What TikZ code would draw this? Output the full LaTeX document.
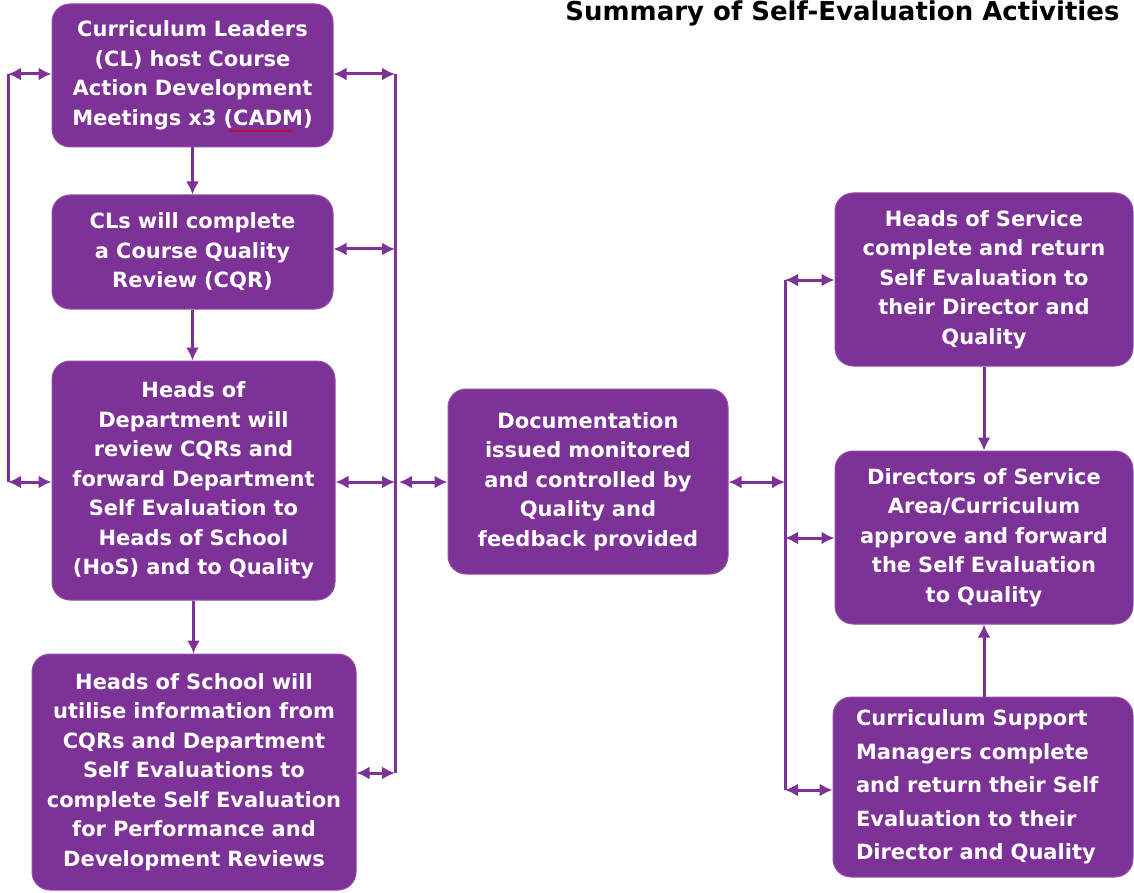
\documentclass[tikz,border=0pt]{standalone}
\usepackage{fontspec}
\setmainfont{DejaVu Sans}
\usetikzlibrary{arrows.meta,decorations.pathmorphing}
\definecolor{purp}{RGB}{125,50,152}
\begin{document}
\begin{tikzpicture}[x=1pt,y=-1pt,
  box/.style={draw=purp!85!white,line width=1pt,fill=purp,rounded corners=18pt,text=white,align=center,
     font=\fontsize{21}{29.5}\selectfont\bfseries,inner sep=0pt},
  conn/.style={draw=purp,line width=3pt},
  dbl/.style={conn,{Latex[length=13pt,width=13pt]}-{Latex[length=13pt,width=13pt]}},
  one/.style={conn,-{Latex[length=13pt,width=13pt]}}]
\useasboundingbox (0,0) rectangle (1134,893);
\fill[white] (0,0) rectangle (1134,893);
\node[anchor=base east,font=\fontsize{26}{30}\selectfont\bfseries] (title) at (1123,21) {Summary of Self-Evaluation Activities};
% boxes
\node[box,minimum width=281pt,minimum height=143pt,text width=275pt] (b1) at (192.5,75.5)
  {Curriculum Leaders\\(CL) host Course\\Action Development\\Meetings x3 (CADM)};
\node[box,minimum width=281pt,minimum height=114pt,text width=275pt] (b2) at (192.5,252)
  {CLs will complete\\a Course Quality\\Review (CQR)};
\node[box,minimum width=283pt,minimum height=239pt,text width=275pt] (b3) at (193.5,480.5)
  {Heads of\\Department will\\review CQRs and\\forward Department\\Self Evaluation to\\Heads of School\\(HoS) and to Quality};
\node[box,minimum width=324pt,minimum height=236pt,text width=318pt] (b4) at (194,772)
  {Heads of School will\\utilise information from\\CQRs and Department\\Self Evaluations to\\complete Self Evaluation\\for Performance and\\Development Reviews};
\node[box,minimum width=280pt,minimum height=185pt,text width=274pt] (doc) at (588,481.5)
  {Documentation\\issued monitored\\and controlled by\\Quality and\\feedback provided};
\node[box,minimum width=298pt,minimum height=173pt,text width=292pt] (hs) at (984,279.5)
  {Heads of Service\\complete and return\\Self Evaluation to\\their Director and\\Quality};
\node[box,minimum width=298pt,minimum height=173pt,text width=292pt] (dir) at (984,537.5)
  {Directors of Service\\Area/Curriculum\\approve and forward\\the Self Evaluation\\to Quality};
\node[box,minimum width=300pt,minimum height=180pt,text width=254pt,align=left,
  font=\fontsize{21}{33.5}\selectfont\bfseries] (csm) at (983,787)
  {Curriculum Support\\Managers complete\\and return their Self\\Evaluation to their\\Director and Quality};
% spell-check squiggle
\draw[red!85!black,line width=0.8pt,decorate,decoration={snake,amplitude=1pt,segment length=4pt}] (229,131) -- (293,131);
% bus coordinates
\coordinate (L1) at (8,74);
\coordinate (L2) at (8,482);
\coordinate (R1) at (395,74);
\coordinate (R2) at (395,249);
\coordinate (R3) at (395,482);
\coordinate (R4) at (395,773);
\coordinate (D0) at (399,482);
\coordinate (Q0) at (785,482);
\coordinate (Q1) at (785,280);
\coordinate (Q2) at (785,538);
\coordinate (Q3) at (785,790);
\draw[conn] (L1) -- (L2);
\draw[conn] (R1) -- (R4);
\draw[conn] (Q1) -- (Q3);
\draw[dbl] (L1) -- (b1.west |- L1);
\draw[dbl] (L2) -- (b3.west |- L2);
\draw[dbl] (R1) -- (b1.east |- R1);
\draw[dbl] (R2) -- (b2.east |- R2);
\draw[dbl] (R3) -- (b3.east |- R3);
\draw[dbl] (R4) -- (b4.east |- R4);
\draw[dbl] (D0) -- (doc.west |- D0);
\draw[dbl] (doc.east |- Q0) -- (Q0);
\draw[dbl] (Q1) -- (hs.west |- Q1);
\draw[dbl] (Q2) -- (dir.west |- Q2);
\draw[dbl] (Q3) -- (csm.west |- Q3);
% vertical arrows
\draw[one] (b1.south) -- (b2.north);
\draw[one] (b2.south) -- (b2.south |- b3.north);
\draw[one] (b3.south) -- (b3.south |- b4.north);
\draw[one] (hs.south) -- (dir.north);
\draw[one] (csm.north -| dir.south) -- (dir.south);
\end{tikzpicture}
\end{document}
